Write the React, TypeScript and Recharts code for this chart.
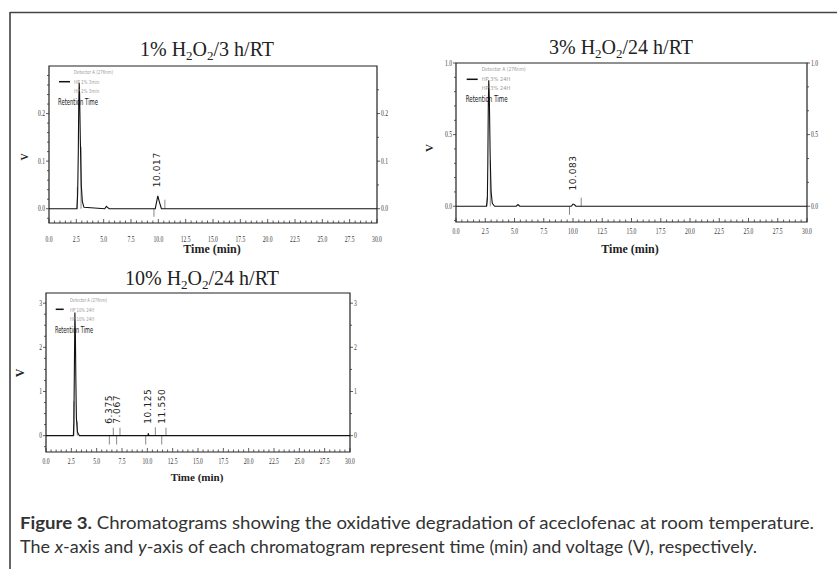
import React from 'react';
import { LineChart, Line, XAxis, YAxis, ReferenceArea, ReferenceLine, ReferenceDot } from 'recharts';

// shared x axis (min)
const xMajor = [0, 2.5, 5, 7.5, 10, 12.5, 15, 17.5, 20, 22.5, 25, 27.5, 30];

// 1% H2O2 / 3 h / RT
const time1 = [0, 2.55, 2.62, 2.68, 2.72, 2.76, 2.8, 2.86, 2.95, 3.05, 3.2, 5.1, 5.25, 5.35, 5.5, 9.72, 9.95, 10.1, 10.28, 30];
const volt1 = [0, 0, 0.03, 0.12, 0.22, 0.265, 0.24, 0.15, 0.05, 0.015, 0.003, 0, 0.005, 0.003, 0, 0, 0.027, 0.014, 0, 0];
const markT1 = [2.59, 2.93, 9.6, 10.6];
const markV1 = [0.045, 0.13, -0.017, 0.019];
const peakT1 = [9.9];
const peakV1 = [0.045];
const peakLbl1 = ['10.017'];

// 3% H2O2 / 24 h / RT
const time2 = [0, 2.6, 2.68, 2.72, 2.76, 2.8, 2.85, 2.92, 3.0, 3.1, 3.3, 5.15, 5.3, 5.45, 9.85, 10.0, 10.1, 10.25, 30];
const volt2 = [0, 0, 0.05, 0.3, 0.7, 0.88, 0.75, 0.35, 0.1, 0.02, 0, 0, 0.012, 0, 0, 0.015, 0.012, 0, 0];
const markT2 = [2.65, 2.93, 9.7, 10.7];
const markV2 = [0.06, 0.32, -0.06, 0.06];
const peakT2 = [10.03];
const peakV2 = [0.11];
const peakLbl2 = ['10.083'];

// 10% H2O2 / 24 h / RT
const time3 = [0, 2.7, 2.75, 2.8, 2.85, 2.9, 2.95, 3.0, 3.1, 3.3, 10.05, 10.1, 10.15, 30];
const volt3 = [0, 0, 0.3, 1.5, 2.79, 2.3, 1.2, 0.4, 0.08, 0, 0, 0.05, 0, 0];
const markT3 = [2.76, 3.09, 6.25, 6.64, 6.97, 7.3, 9.84, 10.79, 11.42, 11.84];
const markV3 = [0.78, 0.32, -0.2, 0.18, -0.2, 0.18, -0.2, 0.19, -0.2, 0.18];
const peakT3 = [6.2, 7.0, 10.04, 11.48];
const peakV3 = [0.27, 0.27, 0.27, 0.27];
const peakLbl3 = ['6.375', '7.067', '10.125', '11.550'];

const steps = (a: number, b: number, s: number) => {
  const out: number[] = [];
  for (let v = a; v <= b + 1e-9; v += s) out.push(Math.round(v * 1000) / 1000);
  return out;
};
const xTicks = steps(0, 30, 0.5);
const isMult = (v: number, m: number) => Math.abs(v / m - Math.round(v / m)) < 1e-6;

const tickFont = "'Liberation Serif', serif";

const XTick = (p: any) => {
  const { x, y, payload, gap } = p;
  const major = xMajor.some((m) => Math.abs(m - payload.value) < 1e-6);
  return (
    <g>
      <line x1={x} x2={x} y1={y} y2={y - (major ? 4 : 2.5)} stroke="#333" strokeWidth={0.8} />
      {major && (
        <text transform={`translate(${x},${y + gap}) scale(0.7,1)`} textAnchor="middle" fontSize={8} fontFamily={tickFont} fill="#333">
          {payload.value.toFixed(1)}
        </text>
      )}
    </g>
  );
};

const YTick = (p: any) => {
  const { x, y, payload, side, major, digits } = p;
  const isMajor = isMult(payload.value, major);
  const dir = side === 'left' ? -1 : 1;
  const len = isMajor ? 3 : 2;
  return (
    <g>
      <line x1={x} x2={x + dir * len} y1={y} y2={y} stroke="#333" strokeWidth={0.8} />
      {isMajor && (
        <text
          transform={`translate(${x + dir * (len + 1)},${y + 2.5}) scale(0.7,1)`}
          textAnchor={side === 'left' ? 'end' : 'start'}
          fontSize={8}
          fontFamily={tickFont}
          fill="#333"
        >
          {payload.value.toFixed(digits)}
        </text>
      )}
    </g>
  );
};

type PanelProps = {
  left: number;
  top: number;
  width: number;
  height: number;
  margin: { top: number; right: number; bottom: number; left: number };
  yLeftW: number;
  yRightW: number;
  time: number[];
  volt: number[];
  markT: number[];
  markV: number[];
  peakT: number[];
  peakV: number[];
  peakLbl: string[];
  yDomain: [number, number];
  yTicksL: number[];
  yTicksR: number[];
  yMajor: number;
  digits: number;
  xGap: number;
};

const Chromatogram = (props: PanelProps) => {
  const { left, top, width, height, margin, yLeftW, yRightW, time, volt, markT, markV, peakT, peakV, peakLbl, yDomain, yTicksL, yTicksR, yMajor, digits, xGap } = props;
  const data = time.map((t, i) => ({ t, v: volt[i] }));
  return (
    <div style={{ position: 'absolute', left, top }}>
      <LineChart width={width} height={height} data={data} margin={margin}>
        <XAxis
          dataKey="t"
          type="number"
          domain={[0, 30]}
          ticks={xTicks}
          interval={0}
          height={30}
          tickSize={0}
          tickMargin={0}
          axisLine={false}
          tickLine={false}
          allowDataOverflow
          tick={(p: any) => <XTick {...p} gap={xGap} />}
        />
        <YAxis
          yAxisId="l"
          type="number"
          domain={yDomain}
          ticks={yTicksL}
          interval={0}
          width={yLeftW}
          tickSize={0}
          tickMargin={0}
          axisLine={false}
          tickLine={false}
          allowDataOverflow
          tick={(p: any) => <YTick {...p} side="left" major={yMajor} digits={digits} />}
        />
        <YAxis
          yAxisId="r"
          orientation="right"
          type="number"
          domain={yDomain}
          ticks={yTicksR}
          interval={0}
          width={yRightW}
          tickSize={0}
          tickMargin={0}
          axisLine={false}
          tickLine={false}
          allowDataOverflow
          tick={(p: any) => <YTick {...p} side="right" major={yMajor} digits={digits} />}
        />
        <ReferenceArea yAxisId="l" x1={0} x2={30} y1={yDomain[0]} y2={yDomain[1]} fill="none" fillOpacity={0} stroke="#222" strokeWidth={1.2} />
        {markT.map((t, i) => (
          <ReferenceLine
            key={'m' + i}
            yAxisId="l"
            segment={[{ x: t, y: 0 }, { x: t, y: markV[i] }]}
            stroke="#888"
            strokeWidth={1}
          />
        ))}
        <Line yAxisId="l" dataKey="v" type="linear" stroke="#111" strokeWidth={1.1} dot={false} isAnimationActive={false} />
        {peakT.map((t, i) => (
          <ReferenceDot
            key={'p' + i}
            yAxisId="l"
            x={t}
            y={peakV[i]}
            r={1}
            shape={(p: any) => (
              <text
                transform={`translate(${p.cx},${p.cy}) rotate(-90)`}
                dominantBaseline="central"
                fontSize={9}
                letterSpacing={0.6}
                fontFamily="'DejaVu Sans', sans-serif"
                fill="#222"
              >
                {peakLbl[i]}
              </text>
            )}
          />
        ))}
      </LineChart>
    </div>
  );
};

const serif = "'Liberation Serif', 'Times New Roman', serif";
const narrow = "'Liberation Sans Narrow', 'DejaVu Sans Condensed', 'Liberation Sans', sans-serif";
const captionFont = "Lato, 'Open Sans', sans-serif";

const Title = ({ x, y, pct, tail }: { x: number; y: number; pct: string; tail: string }) => (
  <text x={x} y={y} textAnchor="middle" fontFamily={serif} fontSize={20} fill="#222">
    {pct + '% H'}
    <tspan fontSize={13} dy={4}>2</tspan>
    <tspan dy={-4}>O</tspan>
    <tspan fontSize={13} dy={4}>2</tspan>
    <tspan dy={-4}>{'/' + tail + '/RT'}</tspan>
  </text>
);

const Legendish = ({ lx, ly, lw, tx, ty, tw, rx, ry, rw, run }: any) => (
  <g>
    <line x1={lx} x2={lx + lw} y1={ly} y2={ly} stroke="#111" strokeWidth={1.5} />
    <text x={tx} y={ty + 2} fontSize={5.5} fontFamily={narrow} fill="#9a9a9a" textLength={tw} lengthAdjust="spacingAndGlyphs">Detector A (276nm)</text>
    <text x={tx} y={ty + 12} fontSize={5.5} fontFamily={narrow} fill="#9a9a9a" textLength={tw * 0.65} lengthAdjust="spacingAndGlyphs">{run}</text>
    <text x={tx} y={ty + 21} fontSize={5.5} fontFamily={narrow} fill="#9a9a9a" textLength={tw * 0.65} lengthAdjust="spacingAndGlyphs">{run}</text>
    <text x={rx} y={ry + 3} fontSize={9} fontFamily={narrow} fill="#111" textLength={rw} lengthAdjust="spacingAndGlyphs">Retention Time</text>
  </g>
);

const App = () => (
  <div style={{ position: 'absolute', left: 0, top: 0, width: 837, height: 569, background: '#fff', overflow: 'hidden' }}>
    <Chromatogram
      left={0}
      top={0}
      width={410}
      height={260}
      margin={{ top: 66, right: 8, bottom: 7, left: 0 }}
      yLeftW={49}
      yRightW={25}
      time={time1}
      volt={volt1}
      markT={markT1}
      markV={markV1}
      peakT={peakT1}
      peakV={peakV1}
      peakLbl={peakLbl1}
      yDomain={[-0.03, 0.3]}
      yTicksL={steps(-0.02, 0.28, 0.02)}
      yTicksR={steps(0, 0.25, 0.05)}
      yMajor={0.1}
      digits={1}
      xGap={19}
    />
    <Chromatogram
      left={420}
      top={0}
      width={417}
      height={260}
      margin={{ top: 63, right: 8, bottom: 8, left: 0 }}
      yLeftW={36}
      yRightW={22}
      time={time2}
      volt={volt2}
      markT={markT2}
      markV={markV2}
      peakT={peakT2}
      peakV={peakV2}
      peakLbl={peakLbl2}
      yDomain={[-0.11, 1.0]}
      yTicksL={steps(-0.1, 1.0, 0.1)}
      yTicksR={[0, 1 / 6, 2 / 6, 0.5, 4 / 6, 5 / 6, 1]}
      yMajor={0.5}
      digits={1}
      xGap={12}
    />
    <Chromatogram
      left={0}
      top={260}
      width={380}
      height={230}
      margin={{ top: 33, right: 8, bottom: 8, left: 0 }}
      yLeftW={46}
      yRightW={22}
      time={time3}
      volt={volt3}
      markT={markT3}
      markV={markV3}
      peakT={peakT3}
      peakV={peakV3}
      peakLbl={peakLbl3}
      yDomain={[-0.37, 3.23]}
      yTicksL={steps(-0.25, 3, 0.25)}
      yTicksR={steps(0, 3, 0.5)}
      yMajor={1}
      digits={0}
      xGap={12}
    />
    <svg width={837} height={569} style={{ position: 'absolute', left: 0, top: 0, pointerEvents: 'none' }}>
      <line x1={10} x2={10} y1={12} y2={569} stroke="#666" strokeWidth={2} />
      <line x1={10} x2={837} y1={12.5} y2={12.5} stroke="#444" strokeWidth={1.5} />

      <Title x={207} y={56} pct="1" tail="3 h" />
      <Title x={621} y={54} pct="3" tail="24 h" />
      <Title x={202} y={285} pct="10" tail="24 h" />

      <text x={212} y={253} textAnchor="middle" fontFamily={serif} fontWeight="bold" fontSize={12} fill="#222">Time (min)</text>
      <text x={630} y={253} textAnchor="middle" fontFamily={serif} fontWeight="bold" fontSize={12} fill="#222">Time (min)</text>
      <text x={197} y={481} textAnchor="middle" fontFamily={serif} fontWeight="bold" fontSize={11} fill="#222">Time (min)</text>

      <text transform="translate(24,157) rotate(-90)" textAnchor="middle" dominantBaseline="central" fontFamily={serif} fontWeight="bold" fontSize={10} fill="#222">V</text>
      <text transform="translate(429,148) rotate(-90)" textAnchor="middle" dominantBaseline="central" fontFamily={serif} fontWeight="bold" fontSize={11} fill="#222">V</text>
      <text transform="translate(20,373) rotate(-90)" textAnchor="middle" dominantBaseline="central" fontFamily={serif} fontWeight="bold" fontSize={12} fill="#222">V</text>

      <Legendish lx={59} ly={81.7} lw={11} tx={74} ty={72} tw={39} rx={58} ry={101.7} rw={40} run="HP 1% 3min" />
      <Legendish lx={466.7} ly={79.3} lw={11} tx={481.7} ty={69} tw={44} rx={465.7} ry={99.3} rw={42} run="HP 3% 24H" />
      <Legendish lx={55.7} ly={309.3} lw={8} tx={70} ty={300} tw={37} rx={55} ry={330} rw={38} run="HP 10% 24H" />

      <text x={20} y={529} fontFamily={captionFont} fontSize={17} fill="#333" textLength={794} lengthAdjust="spacingAndGlyphs">
        <tspan fontWeight="bold">Figure 3.</tspan>
        <tspan> Chromatograms showing the oxidative degradation of aceclofenac at room temperature.</tspan>
      </text>
      <text x={20} y={553} fontFamily={captionFont} fontSize={17} fill="#333" textLength={737} lengthAdjust="spacingAndGlyphs">
        The <tspan fontStyle="italic">x</tspan>-axis and <tspan fontStyle="italic">y</tspan>-axis of each chromatogram represent time (min) and voltage (V), respectively.
      </text>
    </svg>
  </div>
);

export default App;
